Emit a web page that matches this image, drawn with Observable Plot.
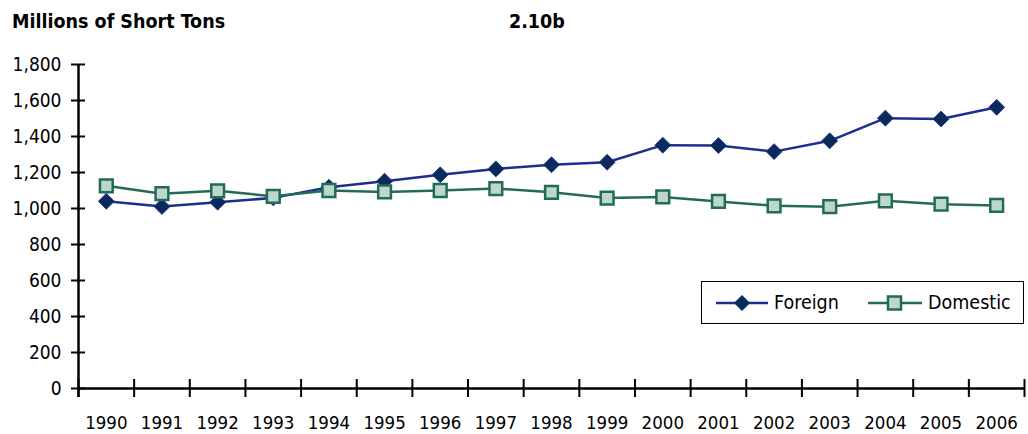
<!DOCTYPE html>
<html>
<head>
<meta charset="utf-8">
<script src="https://cdn.jsdelivr.net/npm/d3@7"></script>
<script src="https://cdn.jsdelivr.net/npm/@observablehq/plot@0.6"></script>
<style>
  html, body { margin: 0; padding: 0; background: #fff; }
  #wrap { position: relative; width: 1028px; height: 434px; font-family: "Liberation Sans Narrow", "Arial Narrow", "DejaVu Sans Condensed", sans-serif; color: #000; }
  .ttl { position: absolute; top: 11px; font-weight: bold; font-size: 19.5px; line-height: 22px; }
  #legend { position: absolute; left: 701px; top: 281px; width: 323px; height: 43px; border: 1px solid #000; box-sizing: border-box; background: #fff; font-size: 19.5px; }
  #legend .item { position: absolute; top: 0; height: 41px; display: flex; align-items: center; }
  #legend svg { display: block; }
</style>
</head>
<body>
<div id="wrap">
  <div class="ttl" style="left:12px">Millions of Short Tons</div>
  <div class="ttl" style="left:509px">2.10b</div>
  <div id="chart"></div>
  <div id="legend">
    <div class="item" style="left:12px">
      <svg width="56" height="20"><line x1="2" y1="10" x2="54" y2="10" stroke="#1b2f8e" stroke-width="2.5"/><path d="M28,2 L36,10 L28,18 L20,10 Z" fill="#0b2a5c"/></svg>
      <span style="margin-left:4px">Foreign</span>
    </div>
    <div class="item" style="left:164px">
      <svg width="58" height="20"><line x1="2" y1="10" x2="56" y2="10" stroke="#236b59" stroke-width="2.5"/><rect x="22" y="3.5" width="13" height="13" fill="#bdd7cb" stroke="#236b59" stroke-width="2.5"/></svg>
      <span style="margin-left:4px">Domestic</span>
    </div>
  </div>
</div>
<script>
const years = [1990,1991,1992,1993,1994,1995,1996,1997,1998,1999,2000,2001,2002,2003,2004,2005,2006];
const foreign = [1040,1011,1035,1059,1118,1152,1187,1220,1243,1257,1352,1350,1316,1376,1502,1497,1562];
const domestic = [1126,1082,1098,1068,1100,1092,1100,1111,1090,1058,1064,1039,1015,1010,1043,1024,1017];
const yTicks = [0,200,400,600,800,1000,1200,1400,1600,1800];
const yearBounds = d3.range(years[0] - 0.5, years[years.length - 1] + 1, 1);

const fData = years.map((y, i) => ({year: y, value: foreign[i]}));
const dData = years.map((y, i) => ({year: y, value: domestic[i]}));

const font = `"Liberation Sans Narrow", "Arial Narrow", "DejaVu Sans Condensed", sans-serif`;

const chart = Plot.plot({
  width: 1028,
  height: 434,
  marginLeft: 78,
  marginRight: 4,
  marginTop: 64,
  marginBottom: 46,
  style: {fontFamily: font, fontSize: "19px", color: "#000", background: "transparent"},
  x: {domain: [years[0] - 0.5, years[years.length - 1] + 0.5]},
  y: {domain: [0, 1800]},
  marks: [
    Plot.axisY({ticks: yTicks, tickSize: 14, dx: 7, tickPadding: 10, tickFormat: d3.format(","), label: null, strokeWidth: 2, fontSize: 19}),
    Plot.axisX({ticks: yearBounds, tickSize: 18, dy: -9, tickFormat: () => "", label: null, strokeWidth: 2}),
    Plot.axisX({ticks: years, tickSize: 0, tickPadding: 27, tickFormat: d => String(d), label: null, fontSize: 18.5}),
    Plot.ruleX([years[0] - 0.5], {stroke: "#000", strokeWidth: 2.5, insetBottom: -9}),
    Plot.ruleY([0], {stroke: "#000", strokeWidth: 2.5}),
    Plot.line(fData, {x: "year", y: "value", stroke: "#1b2f8e", strokeWidth: 2.5}),
    Plot.dot(fData, {x: "year", y: "value", symbol: "diamond2", r: 7.2, fill: "#0b2a5c", stroke: "#1b2f8e", strokeWidth: 0.8}),
    Plot.line(dData, {x: "year", y: "value", stroke: "#236b59", strokeWidth: 2.5}),
    Plot.dot(dData, {x: "year", y: "value", symbol: "square", r: 7.2, fill: "#bdd7cb", stroke: "#236b59", strokeWidth: 2.5})
  ]
});
chart.style.position = "absolute";
chart.style.left = "0px";
chart.style.top = "0px";
document.getElementById("chart").appendChild(chart);
</script>
</body>
</html>
